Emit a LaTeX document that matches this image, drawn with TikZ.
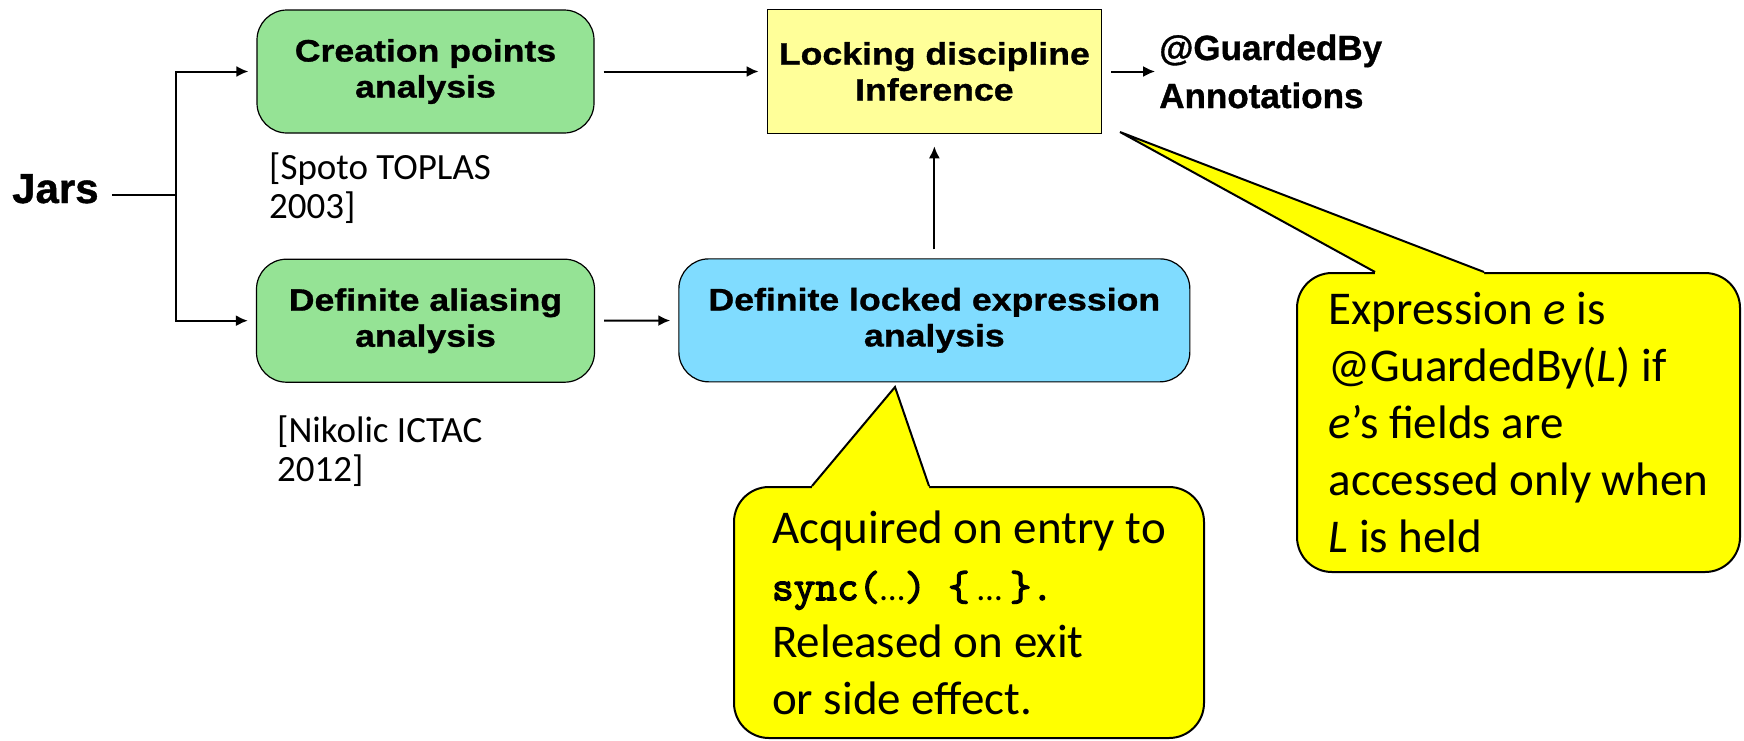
\documentclass[tikz,border=0pt]{standalone}
\usepackage{fontspec}
\setmainfont{Carlito}
\newfontfamily\boxfont{Liberation Sans}[FakeStretch=1.15,FakeBold=1]
\newfontfamily\headfont{Liberation Sans}[FakeBold=1]
\newfontfamily\codefont{Latin Modern Mono}[FakeBold=3]
\usetikzlibrary{positioning,arrows.meta}
\definecolor{stagegreen}{RGB}{149,227,149}
\definecolor{stageblue}{RGB}{128,220,255}
\definecolor{inferyellow}{RGB}{255,255,153}
\definecolor{noteyellow}{RGB}{255,255,0}

\begin{document}
\begin{tikzpicture}[
    x=1pt,y=-1pt,
    stage/.style={draw,line width=1.2pt,rounded corners=30pt,minimum height=123pt,
        align=center,font=\boxfont\bfseries\fontsize{31}{36}\selectfont},
    infer/.style={draw,line width=1.5pt,fill=inferyellow,minimum width=334pt,
        minimum height=124pt,align=center,font=\boxfont\bfseries\fontsize{31}{36}\selectfont},
    flow/.style={-{Latex[length=12pt,width=11pt]},line width=2pt,shorten <=9pt,shorten >=8pt},
    note/.style={draw,line width=2pt,fill=noteyellow,rounded corners=35pt,
        align=left,font=\fontsize{47}{57}\selectfont},
    cite/.style={align=left,inner sep=0pt,anchor=north west,font=\fontsize{37}{39}\selectfont}
    ]
    \useasboundingbox (0,0) rectangle (1744,740);

    \node[stage,fill=stagegreen,minimum width=337pt] (creation) at (425.5,71.5) {Creation points\\analysis};
    \node[stage,fill=stagegreen,minimum width=338pt,below=125pt of creation] (aliasing) {Definite aliasing\\analysis};
    \node[infer,right=172pt of creation] (locking) {Locking discipline\\Inference};
    \node[stage,fill=stageblue,minimum width=511pt,below=124pt of locking] (locked) {Definite locked expression\\analysis};

    \node[font=\headfont\bfseries\fontsize{42}{48}\selectfont,anchor=base west,inner sep=0pt] (jars) at (12,203) {Jars};
    \node[font=\headfont\bfseries\fontsize{35}{48}\selectfont,align=left,inner sep=0pt,right=57pt of locking] (annot) {@GuardedBy\\Annotations};

    \node[cite] (spoto) at (269,153) {[Spoto TOPLAS\\2003]};
    \node[cite] (nikolic) at (277,416) {[Nikolic ICTAC\\2012]};

    \coordinate (split) at (176,195);
    \draw[line width=2pt,shorten <=13pt] (jars.east |- split) -- (split);
    \draw[flow,shorten <=0pt] (split) |- (creation);
    \draw[flow,shorten <=0pt] (split) |- (aliasing);
    \draw[flow] (creation) -- (locking);
    \draw[flow] (aliasing) -- (locked);
    \draw[flow,shorten >=12pt] (locked) -- (locking);
    \draw[flow,shorten >=4pt] (locking) -- (annot);

    % callouts
    \node[note,minimum width=470pt,minimum height=251pt] (syncnote) at (969,612.5)
        {Acquired on entry to\\
         {\codefont\fontsize{42}{57}\selectfont sync(}{\fontsize{35}{57}\selectfont …}{\codefont\fontsize{42}{57}\selectfont)\hspace{22pt}\{}\hspace{8pt}{\fontsize{35}{57}\selectfont …}\hspace{8pt}{\codefont\fontsize{42}{57}\selectfont\}.}\\
         Released on exit\\
         or side effect.};
    \coordinate (synctip) at (895,387);
    \fill[noteyellow] ([xshift=-157pt,yshift=-3pt]syncnote.north) -- ([xshift=-157pt]syncnote.north)
        -- (synctip) -- ([xshift=-40pt]syncnote.north) -- ([xshift=-40pt,yshift=-3pt]syncnote.north) -- cycle;
    \draw[line width=2pt] ([xshift=-157pt]syncnote.north) -- (synctip) -- ([xshift=-40pt]syncnote.north);

    \node[note,minimum width=443pt,minimum height=299pt] (guardnote) at (1518.5,422.5)
        {Expression \textit{e} is\\
         @GuardedBy(\textit{L}) if\\
         \textit{e}’s fields are\\
         accessed only when\\
         \textit{L} is held};
    \coordinate (guardtip) at (1120,132);
    \fill[noteyellow] ([xshift=-143.5pt,yshift=-3pt]guardnote.north) -- ([xshift=-143.5pt]guardnote.north)
        -- (guardtip) -- ([xshift=-34.5pt]guardnote.north) -- ([xshift=-34.5pt,yshift=-3pt]guardnote.north) -- cycle;
    \draw[line width=2pt] ([xshift=-143.5pt]guardnote.north) -- (guardtip) -- ([xshift=-34.5pt]guardnote.north);

\end{tikzpicture}
\end{document}
